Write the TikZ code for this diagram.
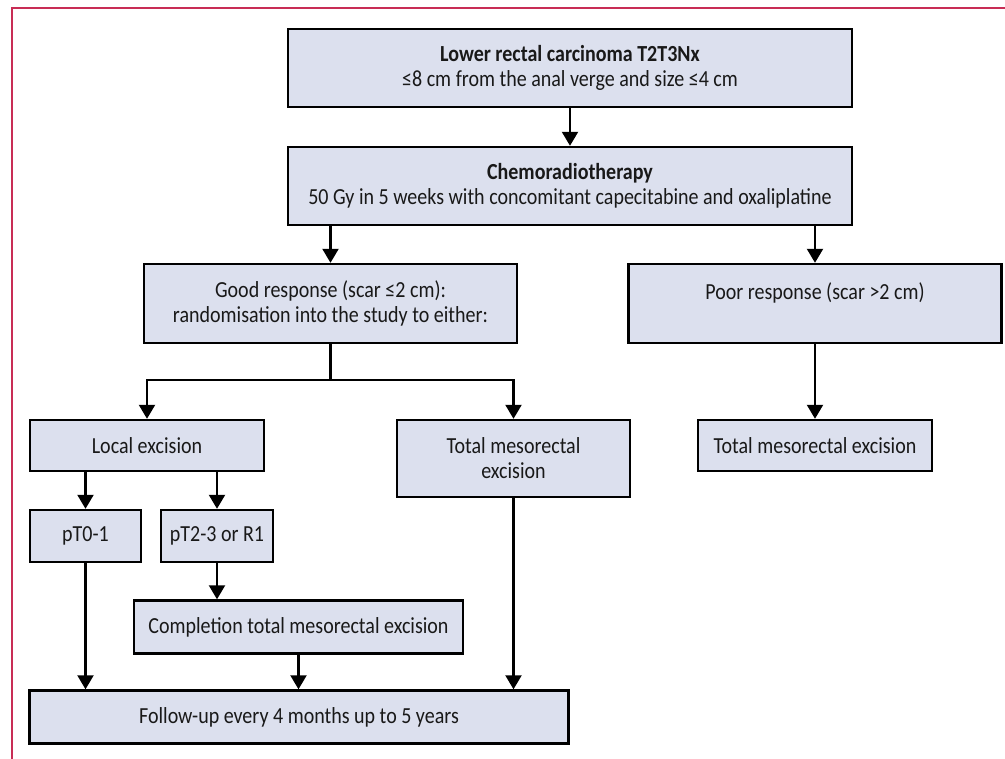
\documentclass[tikz,border=0pt]{standalone}
\usepackage{fontspec}
\setmainfont{Carlito}[FakeStretch=0.87]
\usetikzlibrary{arrows.meta}
\definecolor{boxfill}{RGB}{220,224,238}
\definecolor{framecol}{RGB}{200,45,85}
\tikzset{
  flowbox/.style={draw=black, line width=2.4pt, fill=boxfill, inner sep=0pt,
    align=center, font=\fontsize{23}{25}\selectfont, text=black!90},
  arr/.style={line width=2.2pt, -{Triangle[length=14pt,width=16pt]}},
  link/.style={line width=2.2pt},
}
\begin{document}
\begin{tikzpicture}[x=1pt, y=-1pt]
\useasboundingbox (0,0) rectangle (1005,759);
% outer frame
\draw[framecol, line width=2.4pt] (12,759) -- (12,8) -- (1005,8);

\node[flowbox, minimum width=564pt, minimum height=78pt] (top) at (570,68)
  {\textbf{Lower rectal carcinoma T2T3Nx}\\≤8 cm from the anal verge and size ≤4 cm};
\node[flowbox, minimum width=564pt, minimum height=78pt] (chemo) at (570,186)
  {\textbf{Chemoradiotherapy}\\50 Gy in 5 weeks with concomitant capecitabine and oxaliplatine};
\node[flowbox, minimum width=373pt, minimum height=79pt] (good) at (330.5,303.5)
  {Good response (scar ≤2 cm):\\randomisation into the study to either:};
\node[flowbox, minimum width=373pt, minimum height=79pt] (poor) at (815,303.5)
  {Poor response (scar >2 cm)\\\mbox{}};
\node[flowbox, minimum width=234pt, minimum height=51pt] (local) at (147,445.5)
  {Local excision};
\node[flowbox, minimum width=233pt, minimum height=77pt] (tmeM) at (513.5,458.5)
  {Total mesorectal\\excision};
\node[flowbox, minimum width=234pt, minimum height=51pt] (tmeR) at (815,445.5)
  {Total mesorectal excision};
\node[flowbox, minimum width=111pt, minimum height=52pt] (ptA) at (85.5,536)
  {pT0-1};
\node[flowbox, minimum width=112pt, minimum height=52pt] (ptB) at (217,536)
  {pT2-3 or R1};
\node[flowbox, minimum width=329pt, minimum height=53pt] (compl) at (298.5,627)
  {Completion total mesorectal excision};
\node[flowbox, minimum width=539pt, minimum height=53pt] (follow) at (299,717)
  {Follow-up every 4 months up to 5 years};

% connectors
\draw[arr] (top) -- (chemo);
\draw[arr] (chemo.south -| good.north) -- (good.north);
\draw[arr] (chemo.south -| poor.north) -- (poor.north);
\coordinate (split) at (330.5,380);
\draw[link] (good.south) -- (split);
\draw[arr] (split) -| (local.north);
\draw[arr] (split) -| (tmeM.north);
\draw[arr] (poor.south) -- (tmeR.north);
\draw[arr] (local.south -| ptA.north) -- (ptA.north);
\draw[arr] (local.south -| ptB.north) -- (ptB.north);
\draw[arr] (ptB.south) -- (ptB.south |- compl.north);
\draw[arr] (ptA.south) -- (ptA.south |- follow.north);
\draw[arr] (compl.south) -- (compl.south |- follow.north);
\draw[arr] (tmeM.south) -- (tmeM.south |- follow.north);
\end{tikzpicture}
\end{document}
